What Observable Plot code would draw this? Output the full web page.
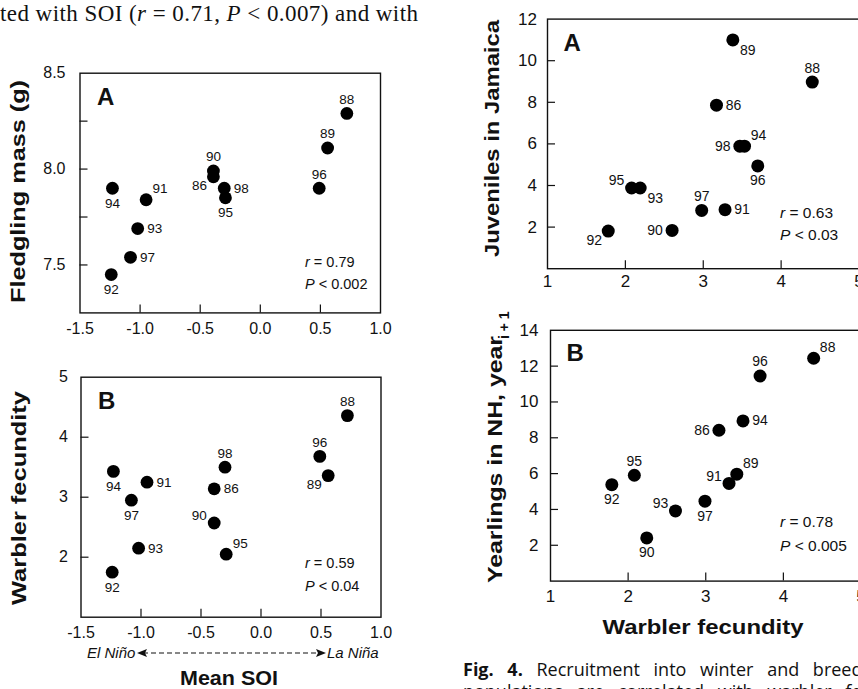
<!DOCTYPE html>
<html><head><meta charset="utf-8">
<script src="https://cdn.jsdelivr.net/npm/d3@7"></script>
<script src="https://cdn.jsdelivr.net/npm/@observablehq/plot@0.6"></script>
<style>
html,body{margin:0;padding:0;background:#fff;overflow:hidden;}
#wrap{position:relative;width:858px;height:689px;overflow:hidden;background:#fff;}
#wrap svg{position:absolute;left:0;top:0;}
</style></head><body><div id="wrap"></div>
<script>
// ---------- data ----------
// Left column (x = mean SOI)
const yearsL = ["86","88","89","90","91","92","93","94","95","96","97","98"];
const meanSOI = [-0.39, 0.72, 0.56, -0.39, -0.95, -1.24, -1.02, -1.23, -0.29, 0.49, -1.08, -0.30];
const fledglingMass = [7.96, 8.29, 8.11, 7.99, 7.84, 7.45, 7.69, 7.90, 7.85, 7.90, 7.54, 7.90];
const fecundityL = [3.14, 4.36, 3.36, 2.57, 3.25, 1.75, 2.15, 3.43, 2.05, 3.68, 2.95, 3.50];
const placeLA = ["sw","n","n","n","ne","s","e","s","s","n","e","e"];
const placeLB = ["e","n","sw","nw","e","s","e","s","ne","n","s","n"];

// Right column (x = warbler fecundity)
const yearsRA = ["86","88","89","90","91","92","93","94","95","96","97","98"];
const fecundityRA = [3.17, 4.40, 3.38, 2.60, 3.28, 1.78, 2.19, 3.53, 2.08, 3.70, 2.98, 3.47];
const juveniles = [7.86, 8.97, 11.0, 1.84, 2.84, 1.81, 3.88, 5.89, 3.88, 4.94, 2.80, 5.89];
const placeRA = ["e","n","se","w","e","sw","se","ne","nw","s","n","w"];

const yearsRB = ["86","88","89","90","91","92","93","94","95","96","97"];
const fecundityRB = [3.17, 4.39, 3.40, 2.24, 3.30, 1.79, 2.61, 3.48, 2.08, 3.70, 2.99];
const yearlings = [8.42, 12.44, 5.97, 2.41, 5.45, 5.38, 3.92, 8.94, 5.91, 11.45, 4.46];
const placeRB = ["w","ne","ne","s","nw","s","nw","e","n","n","s"];

// Ticks
const soiTicks = [-1.5, -1.0, -0.5, 0.0, 0.5, 1.0];
const massTicks = [7.5, 8.0, 8.5];
const massMinor = [7.5, 7.75, 8.0, 8.25];
const fecTicksL = [2, 3, 4, 5];
const fecX = [1, 2, 3, 4, 5];
const juvTicks = [2, 4, 6, 8, 10, 12];
const yrlTicks = [2, 4, 6, 8, 10, 12, 14];

// Statistics and text
const panelLetters = ["A", "B", "A", "B"];
const rValues = ["0.79", "0.59", "0.63", "0.78"];
const pValues = ["0.002", "0.04", "0.03", "0.005"];
const yTitles = ["Fledgling mass (g)", "Warbler fecundity", "Juveniles in Jamaica", "Yearlings in NH, year"];
const xTitles = ["Mean SOI", "Warbler fecundity"];

// ---------- drawing ----------
const W = 900, H = 689;
const FONT = "'Liberation Sans', Arial, Helvetica, sans-serif";
const OFFS = {n:[0,-14], s:[0,15], e:[17,0], w:[-17,0], ne:[14,-11], nw:[-15,-7], se:[15,11], sw:[-14,9]};
const INK = "#111";

function panel(c) {
  const [l, t, r, b] = c.frame;
  const data = c.years.map((yr, i) => ({yr, x: c.xs[i], y: c.ys[i], pos: c.place[i]}));
  const innerW = r - l, innerH = b - t;
  const marks = [
    Plot.frame({stroke: INK, strokeWidth: 1.4}),
    Plot.tickX(c.xMarks, {x: d => d, insetTop: innerH - 8, stroke: INK, strokeWidth: 1.2}),
    Plot.tickY(c.yMarks, {y: d => d, insetRight: innerW - 8, stroke: INK, strokeWidth: 1.2}),
    Plot.axisX(c.xLabels, {tickSize: 0, tickPadding: c.xPad, tickFormat: c.xFmt, fontSize: c.tickFont, label: null, fill: INK}),
    Plot.axisY(c.yLabels, {tickSize: 0, tickPadding: c.yPad, tickFormat: c.yFmt, fontSize: c.tickFont, label: null, fill: INK}),
    Plot.dot(data, {x: "x", y: "y", r: c.rad, fill: "#000", stroke: "none"}),
    ...Object.entries(OFFS).map(([code, [dx, dy]]) =>
      Plot.text(data.filter(d => d.pos === code), {x: "x", y: "y", text: "yr", dx, dy, fontSize: c.ptFont, fill: INK})),
    Plot.text([c.letter], {text: d => d, frameAnchor: "top-left", dx: c.letterPos[0], dy: c.letterPos[1],
      textAnchor: "start", lineAnchor: "top", fontSize: 24, fontWeight: "bold", fill: INK})
  ];
  return Plot.plot({
    width: W, height: H,
    marginLeft: l, marginRight: W - r, marginTop: t, marginBottom: H - b,
    x: {domain: c.xDomain}, y: {domain: c.yDomain},
    style: `background:transparent;max-width:none;overflow:visible;font-family:${FONT};color:${INK};`,
    marks
  });
}

const wrap = document.getElementById("wrap");
const f1 = d => d.toFixed(1), fi = d => String(d);

wrap.appendChild(panel({years: yearsL, xs: meanSOI, ys: fledglingMass, place: placeLA,
  frame: [79.5, 72.7, 380, 312.4], xDomain: [-1.5, 1.0], yDomain: [7.25, 8.5],
  xMarks: soiTicks.slice(1, -1), yMarks: massMinor, xLabels: soiTicks, yLabels: massTicks,
  xFmt: f1, yFmt: f1, xPad: 10, yPad: 14.5, tickFont: 16, ptFont: 13.5, rad: 6.4,
  letter: panelLetters[0], letterPos: [17, 15]}));

wrap.appendChild(panel({years: yearsL, xs: meanSOI, ys: fecundityL, place: placeLB,
  frame: [80.5, 376.7, 380.5, 616.7], xDomain: [-1.5, 1.0], yDomain: [1, 5],
  xMarks: soiTicks.slice(1, -1), yMarks: [2, 3, 4], xLabels: soiTicks, yLabels: fecTicksL,
  xFmt: f1, yFmt: fi, xPad: 9.5, yPad: 13, tickFont: 16, ptFont: 13.5, rad: 6.4,
  letter: panelLetters[1], letterPos: [17, 15]}));

wrap.appendChild(panel({years: yearsRA, xs: fecundityRA, ys: juveniles, place: placeRA,
  frame: [547, 18.6, 858.5, 268.2], xDomain: [1, 5], yDomain: [0, 12],
  xMarks: [2, 3, 4], yMarks: [2, 4, 6, 8, 10], xLabels: fecX, yLabels: juvTicks,
  xFmt: fi, yFmt: fi, xPad: 6, yPad: 10.5, tickFont: 17, ptFont: 14, rad: 6.5,
  letter: panelLetters[2], letterPos: [16, 15]}));

wrap.appendChild(panel({years: yearsRB, xs: fecundityRB, ys: yearlings, place: placeRB,
  frame: [550, 329.8, 860.5, 580.6], xDomain: [1, 5], yDomain: [0, 14],
  xMarks: [2, 3, 4], yMarks: [2, 4, 6, 8, 10, 12], xLabels: fecX, yLabels: yrlTicks,
  xFmt: fi, yFmt: fi, xPad: 8.5, yPad: 12, tickFont: 17, ptFont: 14, rad: 6.5,
  letter: panelLetters[3], letterPos: [16, 14]}));

// ---------- text overlay ----------
const stats = [[305, 262, 284, 14.5], [305, 563, 586, 14.5], [780, 212, 234, 15.5], [780, 521, 545, 15.5]];
const statSvg = stats.map(([x, yr, yp, fs], i) =>
  `<text x="${x}" y="${yr}" font-size="${fs}" dominant-baseline="central"><tspan font-style="italic">r</tspan> = ${rValues[i]}</text>
   <text x="${x}" y="${yp}" font-size="${fs}" dominant-baseline="central"><tspan font-style="italic">P</tspan> &lt; ${pValues[i]}</text>`).join("");

const vTitle = (txt, x, cy, len, fs) =>
  `<text transform="translate(${x},${cy}) rotate(-90)" text-anchor="middle" font-size="${fs}" font-weight="bold" textLength="${len}" lengthAdjust="spacingAndGlyphs">${txt}</text>`;

const overlay = `<svg width="858" height="689" font-family="${FONT}" fill="${INK}">
<text x="0" y="20.5" font-family="'Liberation Serif','Times New Roman',serif" font-size="23" textLength="418" lengthAdjust="spacing">ted with SOI (<tspan font-style="italic">r</tspan> = 0.71, <tspan font-style="italic">P</tspan> &lt; 0.007) and with</text>
${statSvg}
${vTitle(yTitles[0], 25, 191.5, 223, 21)}
${vTitle(yTitles[1], 25.5, 498, 214, 21)}
${vTitle(yTitles[2], 498.5, 138.5, 237, 21)}
<text transform="translate(502,583) rotate(-90)" text-anchor="start" font-size="21" font-weight="bold" textLength="247" lengthAdjust="spacingAndGlyphs">${yTitles[3]}</text>
<text transform="translate(509,339) rotate(-90)" text-anchor="start" font-size="14" font-weight="bold">i + 1</text>
<text x="87" y="658" font-size="15" font-style="italic">El Niño</text>
<line x1="143" y1="653" x2="320" y2="653" stroke="${INK}" stroke-width="1.1" stroke-dasharray="5,3"/>
<path d="M137,653 L147,649 L145,653 L147,657 Z" fill="${INK}"/>
<path d="M326,653 L316,649 L318,653 L316,657 Z" fill="${INK}"/>
<text x="327" y="658" font-size="15" font-style="italic">La Niña</text>
<text x="229" y="685" text-anchor="middle" font-size="20" font-weight="bold" textLength="98" lengthAdjust="spacingAndGlyphs">${xTitles[0]}</text>
<text x="703" y="634" text-anchor="middle" font-size="21" font-weight="bold" textLength="201" lengthAdjust="spacingAndGlyphs">${xTitles[1]}</text>
<text x="463" y="676" font-family="'Open Sans','Noto Sans',sans-serif" font-size="18" word-spacing="9"><tspan font-weight="bold">Fig. 4.</tspan> Recruitment into winter and breeding</text>
<text x="463" y="698" font-family="'Open Sans','Noto Sans',sans-serif" font-size="18" word-spacing="9">populations are correlated with warbler fecundity</text>
</svg>`;
wrap.insertAdjacentHTML("beforeend", overlay);
</script>
</body></html>
